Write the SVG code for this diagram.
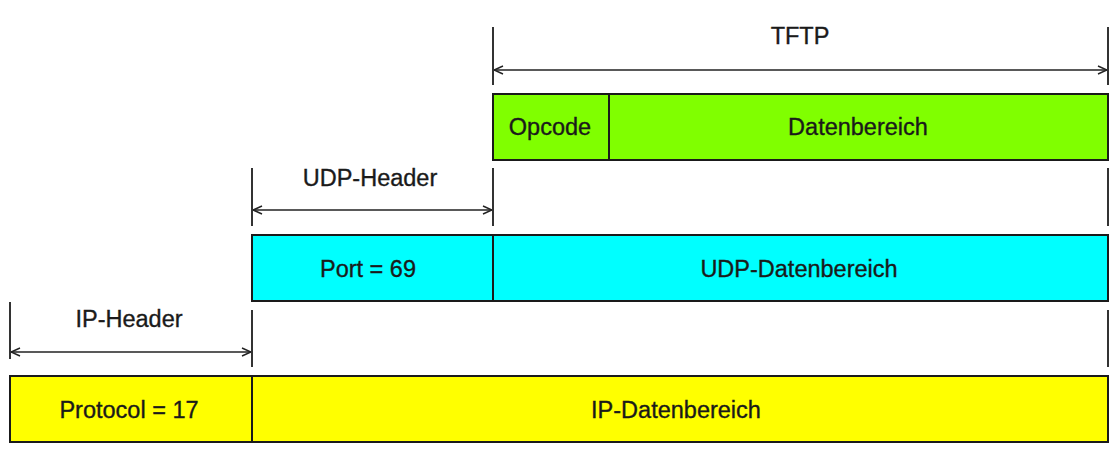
<svg xmlns="http://www.w3.org/2000/svg" width="1119" height="461" viewBox="0 0 1119 461">
<style>
.box{stroke:#1a1a1a;stroke-width:2}
.div{stroke:#1a1a1a;stroke-width:2}
.t{font-family:"Liberation Sans",Arial,sans-serif;font-size:23.5px;fill:#1a1a1a;stroke:#1a1a1a;stroke-width:0.35;text-anchor:middle}
.tick{stroke:#333;stroke-width:2}
.dim{stroke:#222;stroke-width:1.6;marker-start:url(#ah);marker-end:url(#ah)}
</style>
<defs>
<marker id="ah" viewBox="0 0 10 10" refX="10" refY="5" markerWidth="10" markerHeight="10" markerUnits="userSpaceOnUse" orient="auto-start-reverse">
<path d="M1,1 L10,5 L1,9" fill="none" stroke="#222" stroke-width="1.5"/>
</marker>
</defs>
<rect width="1119" height="461" fill="#ffffff"/>
<g id="connectors">
<line class="tick" x1="493" y1="27" x2="493" y2="85"/>
<line class="tick" x1="1108" y1="27" x2="1108" y2="85"/>
<line class="dim" x1="494" y1="70" x2="1107" y2="70"/>
<line class="tick" x1="1108" y1="168" x2="1108" y2="226"/>
<line class="tick" x1="252" y1="168" x2="252" y2="226"/>
<line class="tick" x1="493" y1="168" x2="493" y2="226"/>
<line class="dim" x1="253" y1="210" x2="492" y2="210"/>
<line class="tick" x1="1108" y1="310" x2="1108" y2="367"/>
<line class="tick" x1="10" y1="302" x2="10" y2="359"/>
<line class="tick" x1="252" y1="310" x2="252" y2="367"/>
<line class="dim" x1="11" y1="352" x2="251" y2="352"/>
</g>
<g id="tftp-label"><text class="t" x="800" y="44">TFTP</text></g>
<g id="tftp">
<rect class="box" x="493" y="94" width="615" height="66" fill="#80ff00"/>
<line class="div" x1="609" y1="94" x2="609" y2="160"/>
<text class="t" x="550" y="135">Opcode</text>
<text class="t" x="858" y="135">Datenbereich</text>
</g>
<g id="udp-header-label"><text class="t" x="370" y="186">UDP-Header</text></g>
<g id="udp">
<rect class="box" x="252" y="235" width="856" height="66" fill="#00ffff"/>
<line class="div" x1="493" y1="235" x2="493" y2="301"/>
<text class="t" x="368" y="277">Port = 69</text>
<text class="t" x="799" y="277">UDP-Datenbereich</text>
</g>
<g id="ip-header-label"><text class="t" x="129" y="327">IP-Header</text></g>
<g id="ip">
<rect class="box" x="10" y="376" width="1098" height="66" fill="#ffff00"/>
<line class="div" x1="252" y1="376" x2="252" y2="442"/>
<text class="t" x="129" y="418">Protocol = 17</text>
<text class="t" x="676" y="418">IP-Datenbereich</text>
</g>
</svg>
